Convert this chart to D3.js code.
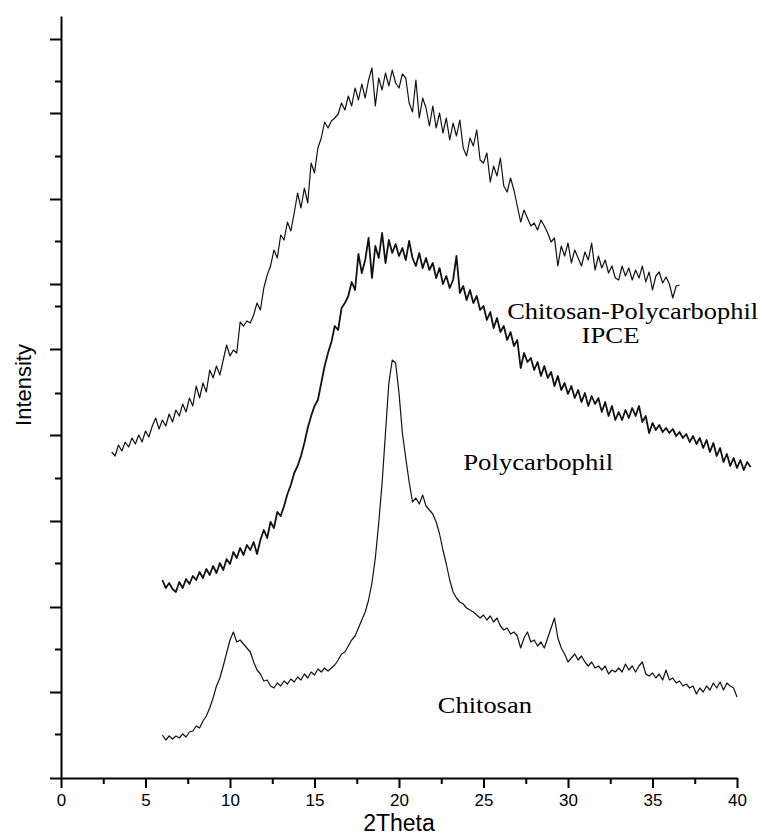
<!DOCTYPE html>
<html>
<head>
<meta charset="utf-8">
<script src="https://cdn.jsdelivr.net/npm/d3@7"></script>
<style>
  body { margin: 0; background: #fff; }
  svg { display: block; }
</style>
</head>
<body>
<svg id="chart" width="763" height="838"></svg>
<script>
// XRD patterns, 2Theta sampled every 0.2 deg, intensity in arbitrary units
const step = 0.2;

const ipceStart = 3.0;
const ipceValues = [
  326,322,333,327,336, 331,340,334,343,336, 347,341,352,360,349, 358,352,364,356,368,
  362,374,366,380,372, 392,380,395,386,408, 400,412,403,418,433, 422,428,425,456,452,
  457,455,463,475,468, 490,503,512,528,520, 543,538,556,547,565, 585,570,590,575,615,
  605,630,640,656,650, 657,660,664,675,668, 682,672,690,678,694, 680,698,710,672,700,
  688,705,692,708,695, 690,704,700,675,666, 698,660,680,670,652, 672,650,665,645,660,
  638,655,642,658,630, 622,640,632,648,618, 615,625,596,612,602, 620,592,586,600,588,
  572,556,568,560,552, 555,548,558,552,545, 536,540,512,532,522, 535,515,528,520,512,
  526,518,535,508,522, 510,518,505,512,500, 498,512,502,510,498, 508,500,512,496,506,
  488,502,506,495,501, 494,480,492,493
];

const polyStart = 6.0;
const polyValues = [
  198,190,195,189,186, 196,190,199,194,202, 198,206,200,209,203, 212,205,215,208,219,
  214,226,220,230,223, 233,228,236,224,238, 248,240,256,250,266, 262,272,284,293,305,
  312,322,335,350,362, 372,378,395,412,425, 436,452,448,470,475, 482,496,488,524,505,
  518,540,500,532,520, 545,515,538,525,534, 522,530,518,537,520, 512,525,510,520,508,
  515,500,510,494,502, 490,498,522,485,492, 478,488,475,482,468, 472,458,466,450,460,
  446,452,438,446,432, 438,410,425,416,420, 408,416,402,412,400, 406,392,402,388,395,
  384,392,380,388,376, 385,372,382,374,380, 366,376,362,372,358, 366,358,368,360,370,
  362,372,356,362,345, 355,348,353,346,350, 345,349,342,346,340, 344,336,342,334,340,
  330,338,326,335,322, 330,316,324,312,320, 310,318,308,316,311
];

const chitosanStart = 6.0;
const chitosanValues = [
  43,38,42,39,42, 40,44,41,46,47, 52,50,57,62,70, 80,92,100,112,125,
  138,146,136,138,134, 130,126,116,108,104, 97,98,92,90,95, 92,97,94,99,96,
  101,98,104,100,106, 103,109,106,110,107, 110,113,118,124,126, 132,138,142,150,158,
  166,178,195,220,255, 295,345,395,418,415, 385,345,320,296,276, 280,274,283,272,268,
  264,256,244,228,214, 198,186,180,176,174, 170,168,166,163,160, 163,158,162,156,160,
  152,148,150,144,146, 142,130,140,146,136, 138,132,136,130,140, 150,160,140,130,124,
  116,120,124,118,122, 116,112,116,110,112, 108,112,104,108,106, 110,106,114,108,112,
  106,112,116,104,102, 105,100,104,98,108, 98,100,95,97,92, 94,90,92,84,90,
  86,92,88,95,90, 96,88,95,92,90, 81
];

// Axis ticks (unlabelled intensity axis)
const xMajorTicks = [0, 5, 10, 15, 20, 25, 30, 35, 40];
const xMinorTicks = [2.5, 7.5, 12.5, 17.5, 22.5, 27.5, 32.5, 37.5];
const yMajorTicks = [0, 86, 171, 257, 343, 429, 494, 579, 665, 739];
const yMinorTicks = [44, 129, 215, 300, 385, 472, 537, 622, 697];

const seriesLabels = [
  { text: "Chitosan-Polycarbophil", x: 26.4, y: 459, len: 251 },
  { text: "IPCE", x: 30.8, y: 435, len: 58 },
  { text: "Polycarbophil", x: 23.8, y: 308, len: 150 },
  { text: "Chitosan", x: 22.3, y: 65, len: 94 }
];

const toPoints = (start, values) => values.map((v, i) => ({ x: start + i * step, y: v }));
const series = [
  { name: "ipce", pts: toPoints(ipceStart, ipceValues), width: 1.2 },
  { name: "poly", pts: toPoints(polyStart, polyValues), width: 1.8 },
  { name: "chitosan", pts: toPoints(chitosanStart, chitosanValues), width: 1.2 }
];

const svg = d3.select("#chart");
const x = d3.scaleLinear().domain([0, 40]).range([61, 737]);
const y = d3.scaleLinear().domain([0, 762]).range([778, 16]);

// curves
const line = d3.line().x(d => x(d.x)).y(d => y(d.y));
svg.append("g")
  .selectAll("path")
  .data(series)
  .join("path")
  .attr("fill", "none")
  .attr("stroke", "#111")
  .attr("stroke-width", d => d.width)
  .attr("stroke-linejoin", "round")
  .attr("d", d => line(d.pts));

// x axis
const xAxisG = svg.append("g").attr("transform", `translate(0,${y(0)})`);
xAxisG.call(d3.axisBottom(x).tickValues(xMajorTicks).tickSize(10).tickSizeOuter(0).tickPadding(6));
xAxisG.append("g").call(d3.axisBottom(x).tickValues(xMinorTicks).tickSize(6).tickFormat("").tickSizeOuter(0))
  .select(".domain").remove();

// y axis
const yAxisG = svg.append("g").attr("transform", `translate(${x(0)},0)`);
yAxisG.call(d3.axisLeft(y).tickValues(yMajorTicks).tickSize(11).tickFormat("").tickSizeOuter(0));
yAxisG.append("g").call(d3.axisLeft(y).tickValues(yMinorTicks).tickSize(6).tickFormat("").tickSizeOuter(0))
  .select(".domain").remove();

svg.selectAll(".domain, .tick line")
  .attr("stroke", "#000")
  .attr("stroke-width", 2);

xAxisG.selectAll(".tick text")
  .attr("font-family", "'Liberation Sans', Arial, sans-serif")
  .attr("font-size", 17)
  .attr("fill", "#000");

// axis titles
svg.append("text")
  .attr("x", 399)
  .attr("y", 831)
  .attr("text-anchor", "middle")
  .attr("font-family", "'Liberation Sans', Arial, sans-serif")
  .attr("font-size", 23)
  .text("2Theta");

svg.append("text")
  .attr("transform", "translate(31,385) rotate(-90)")
  .attr("text-anchor", "middle")
  .attr("font-family", "'Liberation Sans', Arial, sans-serif")
  .attr("font-size", 22)
  .text("Intensity");

// series labels
svg.append("g")
  .selectAll("text")
  .data(seriesLabels)
  .join("text")
  .attr("x", d => x(d.x))
  .attr("y", d => y(d.y))
  .attr("font-family", "'Liberation Serif', 'Times New Roman', serif")
  .attr("font-size", 23)
  .attr("textLength", d => d.len)
  .attr("lengthAdjust", "spacingAndGlyphs")
  .text(d => d.text);
</script>
</body>
</html>
